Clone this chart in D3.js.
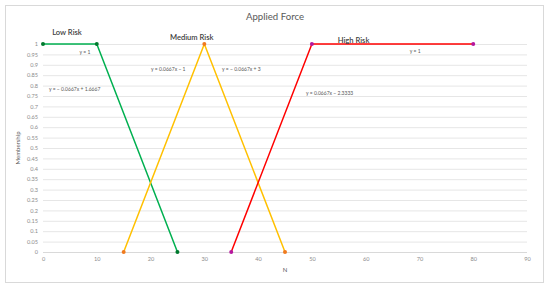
<!DOCTYPE html>
<html><head><meta charset="utf-8">
<script src="https://cdn.jsdelivr.net/npm/d3@7"></script>
<style>body{margin:0;background:#fff;}svg{display:block;font-family:Lato,"Open Sans",sans-serif;}</style>
</head><body>
<svg id="c" width="550" height="292"></svg>
<script>
const title = "Applied Force";
const xTicks = [0,10,20,30,40,50,60,70,80,90];
const yTicks = [0,0.05,0.1,0.15,0.2,0.25,0.3,0.35,0.4,0.45,0.5,0.55,0.6,0.65,0.7,0.75,0.8,0.85,0.9,0.95,1];
const seriesNames = ["Low Risk","Medium Risk","High Risk"];
const lowX = [0,10,25], lowY = [1,1,0];
const medX = [15,30,45], medY = [0,1,0];
const highX = [35,50,80], highY = [0,1,1];
const lineColors = ["#00b050","#ffc000","#ff0000"];
const markerColors = ["#007a2e","#f07a1e","#b5179e"];
// series labels [x, y] in data units
const seriesLabelPos = [[1.7,1.045],[23.6,1.02],[54.8,1.007]];
// equation labels: text, x, y (data units)
const eqText = ["y = 1","y = − 0.0667x + 1.6667","y = 0.0667x − 1","y = − 0.0667x + 3","y = 1","y = 0.0667x − 2.3333"];
const eqX = [6.8,1.1,20.1,33.3,68.2,48.9];
const eqY = [0.952,0.774,0.868,0.868,0.957,0.757];

const svg = d3.select("#c");
const W=550,H=292;
svg.append("rect").attr("x",5.5).attr("y",5.5).attr("width",538).attr("height",277)
  .attr("fill","#fff").attr("stroke","#d9d9d9").attr("stroke-width",1);

const x = d3.scaleLinear().domain([0,90]).range([43,527]);
const y = d3.scaleLinear().domain([0,1]).range([252,44]);

// gridlines
svg.append("g").selectAll("line").data(yTicks).join("line")
  .attr("x1",x(0)).attr("x2",x(90)).attr("y1",d=>y(d)+0.5).attr("y2",d=>y(d)+0.5)
  .attr("stroke",(d)=>d===0?"#d9d9d9":"#e6e6e6").attr("stroke-width",(d)=>d===0?1.2:1);

// axes
const yAxis = d3.axisLeft(y).tickValues(yTicks).tickSize(0).tickPadding(5).tickFormat(d=>d3.format("")(+d.toFixed(2)));
const gy = svg.append("g").attr("transform",`translate(${x(0)},0)`).call(yAxis);
gy.select(".domain").remove();
gy.selectAll("text").attr("font-size","5.6px").attr("fill","#8c8c8c").attr("font-family","Lato,sans-serif");

const xAxis = d3.axisBottom(x).tickValues(xTicks).tickSize(0).tickPadding(5);
const gx = svg.append("g").attr("transform",`translate(0,${y(0)})`).call(xAxis);
gx.select(".domain").remove();
gx.selectAll("text").attr("font-size","5.6px").attr("fill","#8c8c8c").attr("font-family","Lato,sans-serif");

// title and axis titles
svg.append("text").attr("x",275).attr("y",19.5).attr("text-anchor","middle")
  .attr("font-size","9.6px").attr("fill","#595959").text(title);
svg.append("text").attr("x",285).attr("y",272).attr("text-anchor","middle")
  .attr("font-size","6px").attr("fill","#595959").text("N");
svg.append("text").attr("transform",`translate(19.5,${(y(0)+y(1))/2}) rotate(-90)`).attr("text-anchor","middle")
  .attr("font-size","6px").attr("fill","#595959").text("Membership");

// series
const series = [[lowX,lowY],[medX,medY],[highX,highY]];
const line = d3.line().x(d=>x(d[0])).y(d=>y(d[1]));
series.forEach((s,i)=>{
  const pts = s[0].map((v,j)=>[v,s[1][j]]);
  svg.append("path").attr("d",line(pts)).attr("fill","none").attr("stroke",lineColors[i]).attr("stroke-width",1.5).attr("stroke-linejoin","round");
  svg.append("g").selectAll("circle").data(pts).join("circle")
    .attr("cx",d=>x(d[0])).attr("cy",d=>y(d[1])).attr("r",2).attr("fill",markerColors[i]);
  svg.append("text").attr("x",x(seriesLabelPos[i][0])).attr("y",y(seriesLabelPos[i][1]))
    .attr("font-size","7.6px").attr("fill","#404040").attr("font-weight","600").text(seriesNames[i]);
});

// equations
svg.append("g").selectAll("text").data(eqText).join("text")
  .attr("x",(d,i)=>x(eqX[i])).attr("y",(d,i)=>y(eqY[i]))
  .attr("font-size","5px").attr("fill","#595959").text(d=>d);
</script>
</body></html>
